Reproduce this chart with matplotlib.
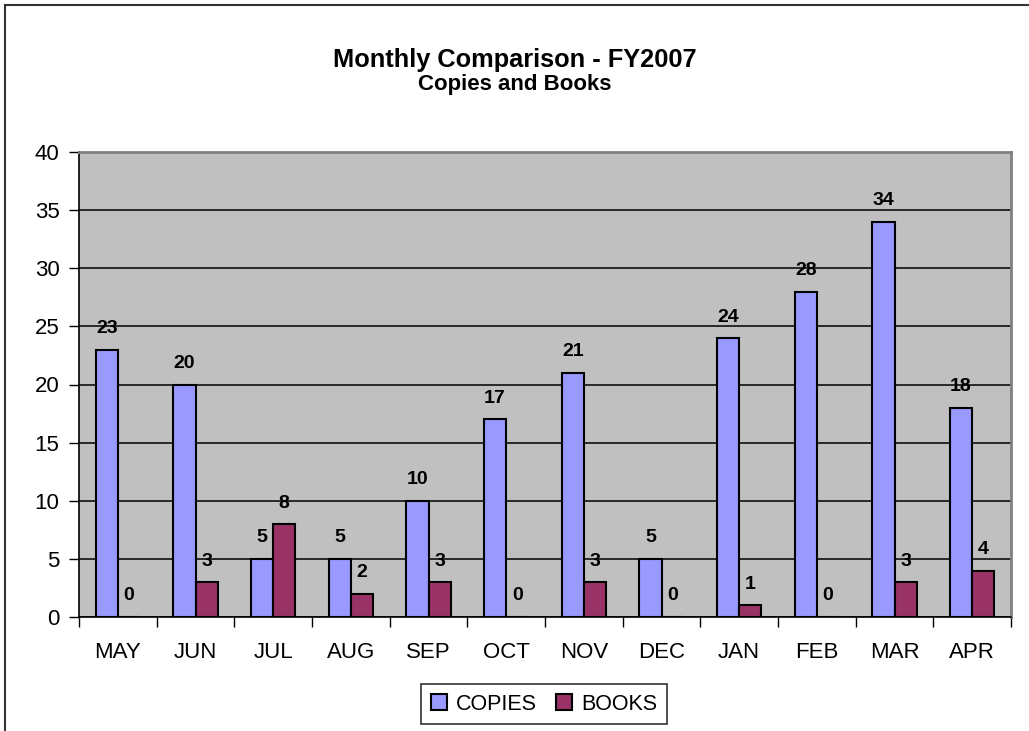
import numpy as np
import matplotlib.pyplot as plt
from matplotlib.lines import Line2D

plt.rcParams['font.family'] = ['Liberation Sans', 'DejaVu Sans']

# data
months = ['MAY', 'JUN', 'JUL', 'AUG', 'SEP', 'OCT', 'NOV', 'DEC', 'JAN', 'FEB', 'MAR', 'APR']
copies = [23, 20, 5, 5, 10, 17, 21, 5, 24, 28, 34, 18]
books = [0, 3, 8, 2, 3, 0, 3, 0, 1, 0, 3, 4]

W, H = 1029, 731
fig = plt.figure(figsize=(W / 100, H / 100), dpi=100)

# axes placed in pixel units of the reference
L, R, T, B = 79, 1011, 152, 617
ax = fig.add_axes([L / W, 1 - B / H, (R - L) / W, (B - T) / H])
ax.set_facecolor('#C0C0C0')

x = np.arange(len(months))
bw = 0.286
b1 = ax.bar(x - bw / 2, copies, bw, color='#9999FF', edgecolor='black', linewidth=1.5,
            label='COPIES', zorder=3)
b2 = ax.bar(x + bw / 2, books, bw, color='#993366', edgecolor='black', linewidth=1.5,
            label='BOOKS', zorder=3)

for bars, vals in ((b1, copies), (b2, books)):
    for rect, v in zip(bars, vals):
        ax.annotate(str(v), (rect.get_x() + rect.get_width() / 2, v),
                    xytext=(0, 9), textcoords='offset points',
                    ha='center', va='bottom', fontsize=14, fontweight='bold', zorder=4)

ax.set_xlim(-0.5, len(months) - 0.5)
ax.set_ylim(0, 40)
ax.set_yticks(np.arange(0, 41, 5))
ax.yaxis.grid(True, color='black', linewidth=1.1, zorder=1)
ax.set_axisbelow(True)

ax.set_xticks(x)
ax.set_xticklabels(months)
ax.set_xticks(np.arange(-0.5, len(months), 1), minor=True)
ax.tick_params(axis='x', which='major', length=0, pad=18, labelsize=16)
ax.tick_params(axis='x', which='minor', length=7, width=1, direction='out')
ax.tick_params(axis='y', length=7, width=1, direction='out', pad=7, labelsize=16)

for s in ('top', 'right'):
    ax.spines[s].set_color('#808080')
    ax.spines[s].set_linewidth(2)
for s in ('left', 'bottom'):
    ax.spines[s].set_color('black')
    ax.spines[s].set_linewidth(1.2)

fig.text(0.5, 1 - 67 / H, 'Monthly Comparison - FY2007', ha='center', va='baseline',
         fontsize=18.3, fontweight='bold')
fig.text(0.5, 1 - 90 / H, 'Copies and Books', ha='center', va='baseline',
         fontsize=16, fontweight='bold')

leg = fig.legend(handles=[b1, b2], loc='center', bbox_to_anchor=(544 / W, 1 - 704 / H),
                 ncol=2, fontsize=15.5, frameon=True, fancybox=False, edgecolor='black',
                 handlelength=0.75, handleheight=0.75, handletextpad=0.4, columnspacing=0.9,
                 borderpad=0.45, borderaxespad=0)
leg.get_frame().set_linewidth(1.2)

# outer chart border (top and left only visible)
fig.add_artist(Line2D([5 / W, 1], [1 - 5 / H, 1 - 5 / H], color='#333333', linewidth=1.5))
fig.add_artist(Line2D([5 / W, 5 / W], [0, 1 - 5 / H], color='#333333', linewidth=1.5))

fig.savefig('out.png', dpi=100)
